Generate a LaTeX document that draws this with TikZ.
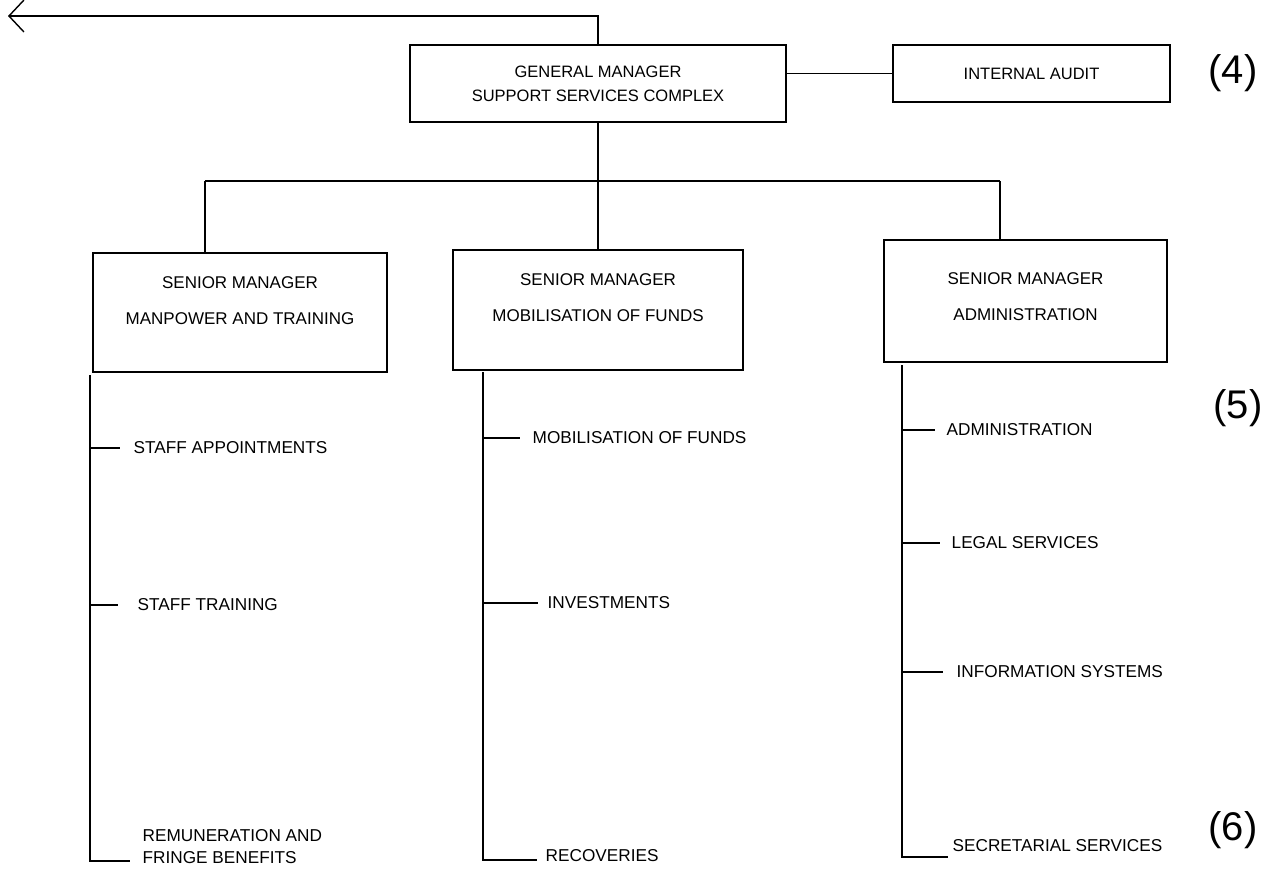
\documentclass[tikz,border=0pt]{standalone}
\usepackage{fontspec}
\setmainfont{Liberation Sans}
\usetikzlibrary{arrows.meta,calc}
\begin{document}
\begin{tikzpicture}[x=1pt,y=-1pt,line width=1.4pt,
  box/.style={draw,line width=1.4pt,inner sep=0pt},
  lbl/.style={inner sep=0pt,font=\fontsize{17.2}{22}\selectfont},
  boxtxt/.style={inner sep=0pt,align=center,font=\fontsize{17}{36}\selectfont},
  num/.style={inner sep=0pt,font=\fontsize{40}{44}\selectfont}]
\useasboundingbox (0,0) rectangle (1277,876);
% top level
\node[box,minimum width=376pt,minimum height=77pt,align=center,
      font=\fontsize{16.5}{24}\selectfont] (gm) at (598,83.5)
      {GENERAL MANAGER\\SUPPORT SERVICES COMPLEX};
\node[box,minimum width=277pt,minimum height=57pt,
      font=\fontsize{16.5}{20}\selectfont] (ia) at (1031.5,73.5) {INTERNAL AUDIT};
\node[num] (n4) at (1233,73) {(4)};
\draw (ia.west) -- (ia.west -| gm.east);
% arrow to the left
\coordinate (arrowend) at (8,16);
\draw[-{Straight Barb[length=15pt,width=32pt,line width=1.4pt]}]
  (gm.north) |- (arrowend);
% senior managers
\node[box,minimum width=294pt,minimum height=119pt] (sl) at (240,312.5) {};
\node[box,minimum width=290pt,minimum height=120pt] (sm) at (598,310) {};
\node[box,minimum width=283pt,minimum height=122pt] (sr) at (1025.5,301) {};
\node[boxtxt] (slt) at (240,301) {SENIOR MANAGER\\MANPOWER AND TRAINING};
\node[boxtxt] (smt) at (598,297.5) {SENIOR MANAGER\\MOBILISATION OF FUNDS};
\node[boxtxt] (srt) at (1025.5,296.5) {SENIOR MANAGER\\ADMINISTRATION};
% bus
\coordinate (busL) at (205,181);
\coordinate (busR) at (1000,181);
\draw (gm.south) -- (sm.north);
\draw (busL) -- (busR);
\draw (busL) -- (busL |- sl.north);
\draw (busR) -- (busR |- sr.north);
% left column
\coordinate (lx) at (90,375);
\node[lbl,anchor=west] (sa) at (133,448) {STAFF APPOINTMENTS};
\node[lbl,anchor=west] (st) at (137,605) {STAFF TRAINING};
\node[lbl,align=left,anchor=west] (rf) at (142,847) {REMUNERATION AND\\FRINGE BENEFITS};
\coordinate (rft) at (130,861);
\draw (lx) -- (lx |- rft) -- (rft);
\draw (lx |- sa.west) -- ([xshift=-13pt]sa.west);
\draw (lx |- st.west) -- ([xshift=-19pt]st.west);
% middle column
\coordinate (mx) at (483,372);
\node[lbl,anchor=west] (mf) at (532,438) {MOBILISATION OF FUNDS};
\node[lbl,anchor=west] (iv) at (547,603) {INVESTMENTS};
\node[lbl,anchor=west] (rc) at (545,856) {RECOVERIES};
\coordinate (rct) at (537,860);
\draw (mx) -- (mx |- rct) -- (rct);
\draw (mx |- mf.west) -- ([xshift=-12pt]mf.west);
\draw (mx |- iv.west) -- ([xshift=-9pt]iv.west);
% right column
\coordinate (rx) at (902,365);
\node[lbl,anchor=west] (ad) at (946,430) {ADMINISTRATION};
\node[lbl,anchor=west] (ls) at (951,543) {LEGAL SERVICES};
\node[lbl,anchor=west] (is) at (956,672) {INFORMATION SYSTEMS};
\node[lbl,anchor=west] (ss) at (952,846) {SECRETARIAL SERVICES};
\coordinate (sst) at (948,857);
\draw (rx) -- (rx |- sst) -- (sst);
\draw (rx |- ad.west) -- ([xshift=-11pt]ad.west);
\draw (rx |- ls.west) -- ([xshift=-11pt]ls.west);
\draw (rx |- is.west) -- ([xshift=-13pt]is.west);
% side numbers
\node[num] (n5) at (1238,408) {(5)};
\node[num] (n6) at (1233,830) {(6)};
\end{tikzpicture}
\end{document}
